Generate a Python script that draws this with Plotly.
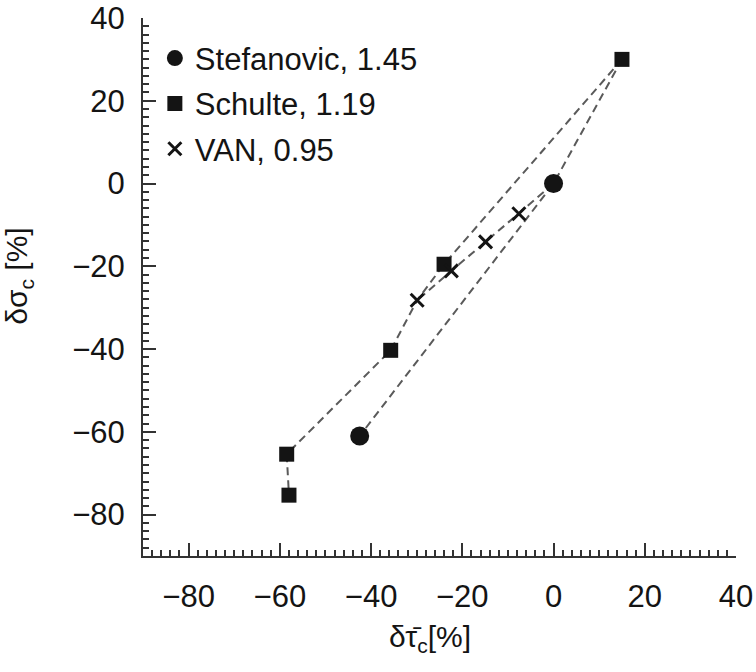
import plotly.graph_objects as go

# ---- data ----
stef_x = [0.0, -42.5]
stef_y = [0.0, -61.0]
schulte_x = [15.0, -24.0, -35.7, -58.5, -58.0]
schulte_y = [30.0, -19.5, -40.3, -65.4, -75.3]
van_x = [-7.6, -14.9, -22.4, -29.9]
van_y = [-7.3, -14.1, -21.1, -28.2]
series_names = ["Stefanovic, 1.45", "Schulte, 1.19", "VAN, 0.95"]
x_ticks = [-80, -60, -40, -20, 0, 20, 40]
y_ticks = [-80, -60, -40, -20, 0, 20, 40]
x_title = "δτ̄<sub>c</sub>[%]"
y_title = "δσ<sub>c</sub> [%]"

# dashed guide lines connecting points (series key, point index)
guide_paths = [
    [("schulte", 0), ("schulte", 1), ("van", 3), ("schulte", 2), ("schulte", 3), ("schulte", 4)],
    [("schulte", 0), ("stef", 0), ("stef", 1)],
    [("stef", 0), ("van", 0), ("van", 1), ("van", 2), ("van", 3)],
]

pts = {
    "stef": (stef_x, stef_y),
    "schulte": (schulte_x, schulte_y),
    "van": (van_x, van_y),
}

FONT = "Liberation Sans, Arial, Helvetica, sans-serif"
INK = "#141414"

fig = go.Figure()

for path in guide_paths:
    xs = [pts[k][0][i] for k, i in path]
    ys = [pts[k][1][i] for k, i in path]
    fig.add_trace(go.Scatter(
        x=xs, y=ys, mode="lines", showlegend=False, hoverinfo="skip",
        line=dict(color="#5a5a5a", width=2, dash="8px,5px"),
    ))

fig.add_trace(go.Scatter(
    x=stef_x, y=stef_y, mode="markers", name=series_names[0], legendgroup="a",
    marker=dict(symbol="circle", size=19, color=INK),
))
fig.add_trace(go.Scatter(
    x=schulte_x, y=schulte_y, mode="markers", name=series_names[1], legendgroup="b",
    marker=dict(symbol="square", size=15, color=INK),
))
fig.add_trace(go.Scatter(
    x=van_x, y=van_y, mode="markers", name=series_names[2], legendgroup="c",
    marker=dict(symbol="x-thin", size=13, color=INK, line=dict(width=3, color=INK)),
))

axis_common = dict(
    showline=True, linecolor="#333", linewidth=2,
    ticks="inside", ticklen=13, tickwidth=1.6, tickcolor="#333",
    minor=dict(dtick=2, ticks="inside", ticklen=6, tickwidth=1.5, tickcolor="#333"),
    showgrid=False, zeroline=False,
    tickfont=dict(family=FONT, size=31, color=INK),
    ticklabeloverflow="allow",
    automargin=False,
    mirror=False,
)

fig.update_layout(
    width=756, height=672,
    margin=dict(l=143, r=20, t=18, b=116),
    paper_bgcolor="white", plot_bgcolor="white",
    font=dict(family=FONT, color=INK),
    xaxis=dict(range=[-90, 40], tickvals=x_ticks, ticklabelstandoff=12, **axis_common),
    yaxis=dict(range=[-90, 40], tickvals=y_ticks, ticklabelstandoff=10, **axis_common),
    legend=dict(
        x=0.02, y=0.975, xanchor="left", yanchor="top",
        bgcolor="rgba(0,0,0,0)", font=dict(family=FONT, size=31, color=INK),
        tracegroupgap=2, itemsizing="trace", traceorder="grouped",
    ),
    annotations=[
        dict(text=x_title, xref="paper", yref="paper", x=0.484, y=-0.154,
             showarrow=False, font=dict(family=FONT, size=30, color=INK),
             xanchor="center", yanchor="middle"),
        dict(text=y_title, xref="paper", yref="paper", x=-0.21, y=0.52,
             showarrow=False, textangle=-90, font=dict(family=FONT, size=30, color=INK),
             xanchor="center", yanchor="middle"),
    ],
)

fig.write_html("out.html", config={"displayModeBar": False},
               post_script="document.body.style.margin='0';")
